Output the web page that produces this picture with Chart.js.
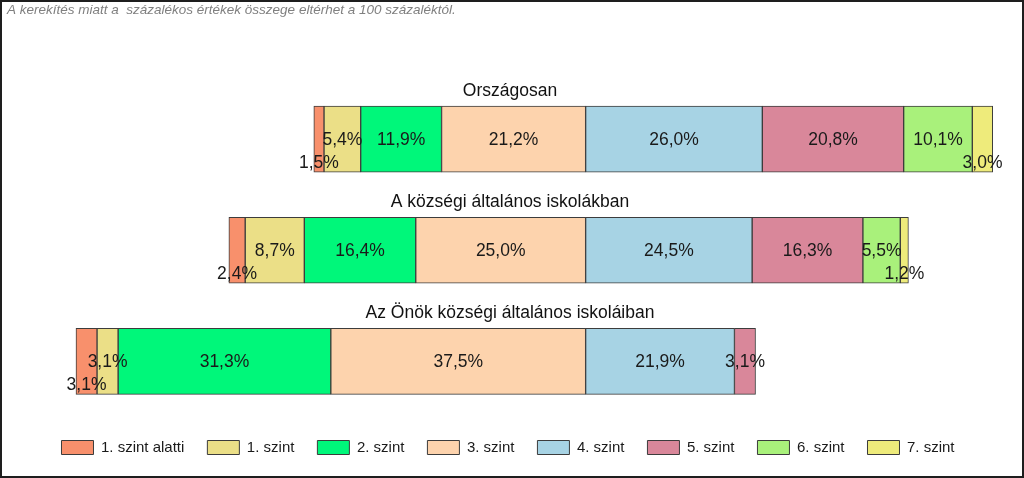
<!DOCTYPE html>
<html>
<head>
<meta charset="utf-8">
<script src="https://cdn.jsdelivr.net/npm/chart.js@4/dist/chart.umd.min.js"></script>
<style>
  html, body { margin: 0; padding: 0; background: #fff; }
  #wrap {
    width: 1024px; height: 478px; box-sizing: border-box;
    border: 2px solid #1e1e1e; position: relative;
  }
  #wrap canvas { display: block; }
</style>
</head>
<body>
<div id="wrap"><canvas id="chart" width="1020" height="474"></canvas></div>
<script>
// categories (one bar each) and levels (one dataset each)
const categories = ['Országosan', 'A községi általános iskolákban', 'Az Önök községi általános iskoláiban'];
const levels = ['1. szint alatti', '1. szint', '2. szint', '3. szint', '4. szint', '5. szint', '6. szint', '7. szint'];
const colors = ['#f8906c', '#ebdf87', '#00f77a', '#fdd3ad', '#a7d3e4', '#d9879a', '#a9f17b', '#eeeb7b'];

// percentages per level
const orszagos = [1.5, 5.4, 11.9, 21.2, 26.0, 20.8, 10.1, 3.0];
const kozsegi = [2.4, 8.7, 16.4, 25.0, 24.5, 16.3, 5.5, 1.2];
const onok = [3.1, 3.1, 31.3, 37.5, 21.9, 3.1, null, null];

const note = 'A kerekítés miatt a  százalékos értékek összege eltérhet a 100 százaléktól.';

const rows = [orszagos, kozsegi, onok];

// bars are aligned at the boundary between 3. szint and 4. szint
function segments(row) {
  const left = row.slice(0, 4).reduce((a, b) => a + (b || 0), 0);
  let pos = -left;
  return row.map(v => {
    if (v == null) return null;
    const seg = [pos, pos + v];
    pos += v;
    return seg;
  });
}
const segs = rows.map(segments);

const datasets = levels.map((lvl, i) => ({
  label: lvl,
  data: segs.map(s => s[i]),
  raw: rows.map(r => r[i]),
  backgroundColor: colors[i],
  borderColor: '#3c3c3c',
  borderWidth: 1,
  borderSkipped: false,
  barThickness: 66,
  grouped: false
}));

const FONT = '"Liberation Sans", Arial, sans-serif';

const valueLabels = {
  id: 'valueLabels',
  afterDatasetsDraw(chart) {
    const ctx = chart.ctx;
    ctx.save();
    ctx.font = '17.5px ' + FONT;
    ctx.fillStyle = '#1a1a1a';
    ctx.textAlign = 'center';
    ctx.textBaseline = 'middle';
    chart.data.datasets.forEach((ds, i) => {
      const meta = chart.getDatasetMeta(i);
      meta.data.forEach((el, j) => {
        const v = ds.raw[j];
        if (v == null) return;
        const {x, base, y} = el.getProps(['x', 'base', 'y'], true);
        // the smallest edge levels are pushed under the bar centre
        const dy = (i === 0 || i === levels.length - 1) ? 23 : 0;
        ctx.fillText(v.toFixed(1).replace('.', ',') + '%', (x + base) / 2, y + dy + 1);
      });
    });
    ctx.restore();
  }
};

const categoryTitles = {
  id: 'categoryTitles',
  afterDatasetsDraw(chart) {
    const ctx = chart.ctx;
    const yScale = chart.scales.y;
    const area = chart.chartArea;
    ctx.save();
    ctx.font = '17.5px ' + FONT;
    ctx.fillStyle = '#111';
    ctx.textAlign = 'center';
    ctx.textBaseline = 'middle';
    categories.forEach((c, i) => {
      ctx.fillText(c, (area.left + area.right) / 2 + 2, yScale.getPixelForValue(i) - 48);
    });
    ctx.restore();
  }
};

new Chart(document.getElementById('chart'), {
  type: 'bar',
  data: { labels: categories, datasets },
  options: {
    indexAxis: 'y',
    responsive: false,
    animation: false,
    layout: { padding: { left: 5, right: 13, top: 0, bottom: 11 } },
    scales: {
      x: { min: -85.15, max: 62.3, display: false },
      y: { display: false }
    },
    plugins: {
      tooltip: { enabled: false },
      title: {
        display: true,
        text: note,
        align: 'start',
        color: '#808080',
        font: { family: FONT, size: 13.5, style: 'italic', weight: 'normal', lineHeight: 1 },
        padding: { top: 1, bottom: 67 }
      },
      legend: {
        position: 'bottom',
        labels: {
          boxWidth: 32,
          boxHeight: 14,
          padding: 23,
          color: '#1a1a1a',
          font: { family: FONT, size: 15 }
        }
      }
    }
  },
  plugins: [valueLabels, categoryTitles]
});
</script>
</body>
</html>
